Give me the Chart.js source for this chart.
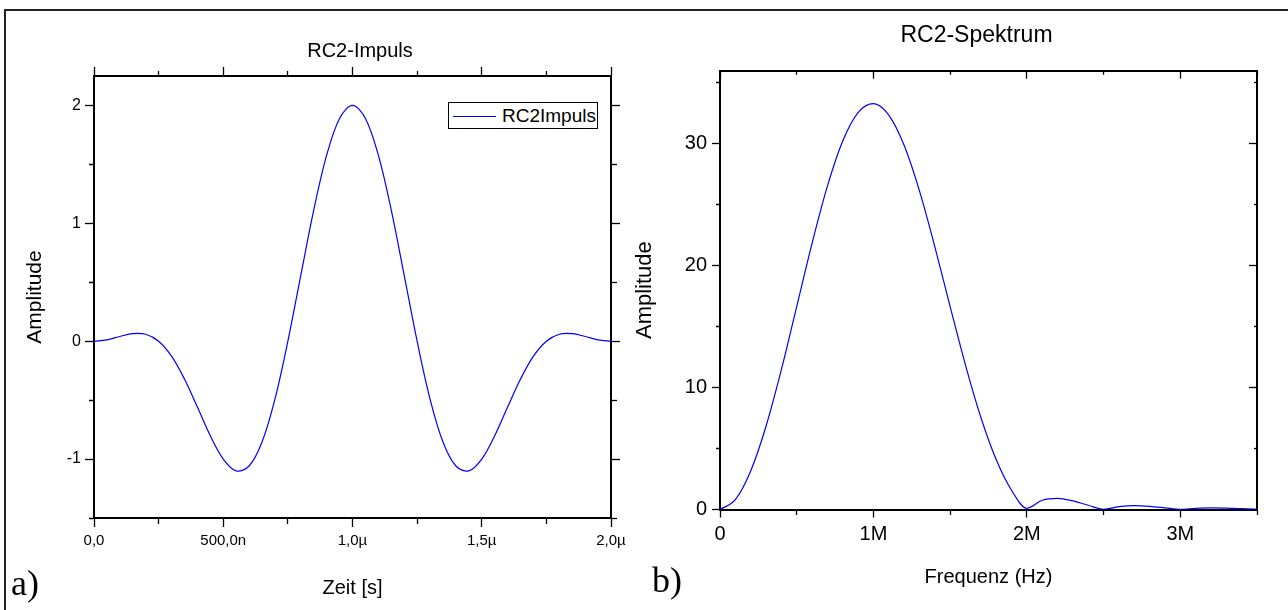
<!DOCTYPE html>
<html>
<head>
<meta charset="utf-8">
<title>RC2-Impuls / RC2-Spektrum</title>
<script src="https://cdn.jsdelivr.net/npm/chart.js@4/dist/chart.umd.min.js"></script>
<style>
  body { margin: 0; width: 1288px; height: 610px; overflow: hidden; background: #fff; position: relative;
         font-family: 'Liberation Sans', Arial, sans-serif; }
  .frame { position: absolute; left: 4px; top: 9px; width: 1400px; height: 700px;
           border-top: 2px solid #222; border-left: 2px solid #222; }
  canvas { position: absolute; top: 0; }
  #impulsChart { left: 0; }
  #spektrumChart { left: 630px; }
  .tag { position: absolute; font-family: 'Liberation Serif', 'Times New Roman', serif; font-size: 36px; line-height: 36px; color: #000; }
  .legend { position: absolute; left: 448px; top: 102px; width: 148px; height: 25px; border: 1px solid #000; background: #fff; }
  .legend .swatch { position: absolute; left: 4px; top: 13px; width: 43px; height: 0; border-top: 1px solid; }
  .legend .label { position: absolute; left: 53px; top: 0; font-size: 19px; line-height: 25px; color: #000; white-space: nowrap; }
</style>
</head>
<body>
<div class="frame"></div>
<canvas id="impulsChart" width="720" height="610"></canvas>
<canvas id="spektrumChart" width="693" height="610"></canvas>
<div class="legend" id="impulsLegend"></div>
<div class="tag" style="left:11px; top:565px;">a)</div>
<div class="tag" style="left:652px; top:562px;">b)</div>

<script>
// RC2 pulse, time in microseconds
const impulsTime = [0, 0.05, 0.1, 0.15, 0.2, 0.25, 0.3, 0.35, 0.4, 0.45, 0.5, 0.55, 0.6, 0.65, 0.7, 0.75, 0.8, 0.85, 0.9, 0.95,
                    1.0, 1.05, 1.1, 1.15, 1.2, 1.25, 1.3, 1.35, 1.4, 1.45, 1.5, 1.55, 1.6, 1.65, 1.7, 1.75, 1.8, 1.85, 1.9, 1.95, 2.0];
const impulsAmp = [0, 0.012, 0.040, 0.064, 0.059, 0, -0.127, -0.321, -0.559, -0.802, -1.000, -1.100, -1.059, -0.855, -0.491, 0, 0.559, 1.112, 1.578, 1.890,
                   2.000, 1.890, 1.578, 1.112, 0.559, 0, -0.491, -0.855, -1.059, -1.100, -1.000, -0.802, -0.559, -0.321, -0.127, 0, 0.059, 0.064, 0.040, 0.012, 0];

// spectrum, frequency in MHz
const spektrumFreq = [0, 0.1, 0.2, 0.3, 0.4, 0.5, 0.6, 0.7, 0.8, 0.9, 1.0, 1.1, 1.2, 1.3, 1.4, 1.5, 1.6, 1.7,
                      1.8, 1.9, 2.0, 2.1, 2.2, 2.3, 2.4, 2.5, 2.6, 2.7, 2.8, 2.9, 3.0, 3.1, 3.2, 3.3, 3.4, 3.5];
const spektrumAmp = [0, 0.81, 3.16, 6.83, 11.47, 16.65, 21.84, 26.53, 30.24, 32.57, 33.30, 32.36, 29.88, 26.14, 21.57, 16.65, 11.85, 7.57,
                     4.10, 1.58, 0.10, 0.76, 0.92, 0.71, 0.35, 0.02, 0.23, 0.31, 0.26, 0.14, 0.01, 0.10, 0.14, 0.12, 0.07, 0.01];

// tick labels, one per step from the axis minimum ('' = minor tick)
const impulsXLabels = ['0,0', '', '500,0n', '', '1,0µ', '', '1,5µ', '', '2,0µ'];
const impulsYLabels = ['', '-1', '', '0', '', '1', '', '2'];
const spektrumXLabels = ['0', '', '1M', '', '2M', '', '3M', ''];
const spektrumYLabels = ['0', '', '10', '', '20', '', '30', ''];

Chart.defaults.font.family = "'Liberation Sans', Arial, sans-serif";
Chart.defaults.color = '#000';

function axis(cfg) {
    const horizontal = cfg.position === 'top' || cfg.position === 'bottom';
    // tick lines start at the far end for top/left axes, at the axis line for bottom/right
    const fromFarEnd = cfg.position === 'top' || cfg.position === 'left';
    const labelAt = v => cfg.labels[Math.round((v - cfg.min) / cfg.step)];
    const isMinor = v => labelAt(v) === '';
    const ticks = {
        display: !!cfg.font,
        stepSize: cfg.step,
        includeBounds: false,
        autoSkip: false,
        maxRotation: 0,
        minRotation: 0,
        padding: cfg.pad || 0,
        color: '#000',
        callback: v => labelAt(v) || ''
    };
    if (cfg.font) ticks.font = { size: cfg.font };
    return {
        type: 'linear',
        axis: horizontal ? 'x' : 'y',
        position: cfg.position,
        min: cfg.min,
        max: cfg.max,
        afterFit: s => { if (horizontal) s.height = cfg.size; else s.width = cfg.size; },
        border: { display: true, color: '#000', width: 2 },
        grid: {
            drawOnChartArea: false,
            drawTicks: true,
            tickLength: cfg.inward ? -cfg.major : cfg.major,
            tickWidth: 1.3,
            tickColor: '#000',
            tickBorderDash: c => {
                if (!c.tick || !isMinor(c.tick.value)) return [];
                return fromFarEnd ? [0, cfg.major - cfg.minor, cfg.minor, 1000] : [cfg.minor, 1000];
            }
        },
        ticks: ticks,
        title: cfg.title || { display: false }
    };
}

const impulsChart = new Chart(document.getElementById('impulsChart'), {
    type: 'line',
    data: {
        datasets: [{
            label: 'RC2Impuls',
            data: impulsTime.map((t, i) => ({ x: t, y: impulsAmp[i] })),
            borderColor: '#0000ff',
            borderWidth: 1.2,
            pointRadius: 0,
            tension: 0.35,
            fill: false
        }]
    },
    options: {
        responsive: false,
        animation: false,
        layout: { padding: 0 },
        plugins: {
            legend: { display: false },
            tooltip: { enabled: false },
            title: {
                display: true,
                text: 'RC2-Impuls',
                color: '#000',
                font: { size: 20, weight: 'normal' },
                padding: { top: 39, bottom: 0 }
            }
        },
        scales: {
            x: axis({ position: 'bottom', min: 0, max: 2, step: 0.25, labels: impulsXLabels, size: 92,
                      major: 9, minor: 5, font: 15, pad: 5,
                      title: { display: true, text: 'Zeit [s]', color: '#000', font: { size: 20 }, padding: { top: 0, bottom: 10 } } }),
            x2: axis({ position: 'top', min: 0, max: 2, step: 0.25, labels: impulsXLabels, size: 13, major: 9, minor: 5 }),
            y: axis({ position: 'left', min: -1.5, max: 2.25, step: 0.5, labels: impulsYLabels, size: 94,
                      major: 9, minor: 5, font: 16, pad: 4,
                      title: { display: true, text: 'Amplitude', color: '#000', font: { size: 21 }, padding: { top: 22.4, bottom: 0 } } }),
            y2: axis({ position: 'right', min: -1.5, max: 2.25, step: 0.5, labels: impulsYLabels, size: 109, major: 9, minor: 5 })
        }
    }
});

const spektrumChart = new Chart(document.getElementById('spektrumChart'), {
    type: 'line',
    data: {
        datasets: [{
            label: 'RC2Spektrum',
            data: spektrumFreq.map((f, i) => ({ x: f, y: spektrumAmp[i] })),
            borderColor: '#0000ff',
            borderWidth: 1.2,
            pointRadius: 0,
            cubicInterpolationMode: 'monotone',
            fill: false
        }]
    },
    options: {
        responsive: false,
        animation: false,
        layout: { padding: 0 },
        plugins: {
            legend: { display: false },
            tooltip: { enabled: false },
            title: {
                display: true,
                text: 'RC2-Spektrum',
                color: '#000',
                font: { size: 23, weight: 'normal' },
                padding: { top: 21.5, bottom: 0 }
            }
        },
        scales: {
            x: axis({ position: 'bottom', min: 0, max: 3.5, step: 0.5, labels: spektrumXLabels, size: 100.5,
                      major: 8, minor: 4, font: 20, pad: 5,
                      title: { display: true, text: 'Frequenz (Hz)', color: '#000', font: { size: 20 }, padding: { top: 0, bottom: 20.5 } } }),
            x2: axis({ position: 'top', min: 0, max: 3.5, step: 0.5, labels: spektrumXLabels, size: 21.6, major: 8, minor: 4, inward: true }),
            y: axis({ position: 'left', min: 0, max: 36, step: 5, labels: spektrumYLabels, size: 90,
                      major: 8, minor: 4, font: 20, pad: 5,
                      title: { display: true, text: 'Amplitude', color: '#000', font: { size: 22 }, padding: { top: 1.8, bottom: 0 } } }),
            y2: axis({ position: 'right', min: 0, max: 36, step: 5, labels: spektrumYLabels, size: 66, major: 8, minor: 4, inward: true })
        }
    }
});

// boxed legend for the pulse chart, built from the dataset
const ds = impulsChart.data.datasets[0];
document.getElementById('impulsLegend').innerHTML =
    '<span class="swatch" style="border-top-color:' + ds.borderColor + '"></span>' +
    '<span class="label">' + ds.label + '</span>';
</script>
</body>
</html>
